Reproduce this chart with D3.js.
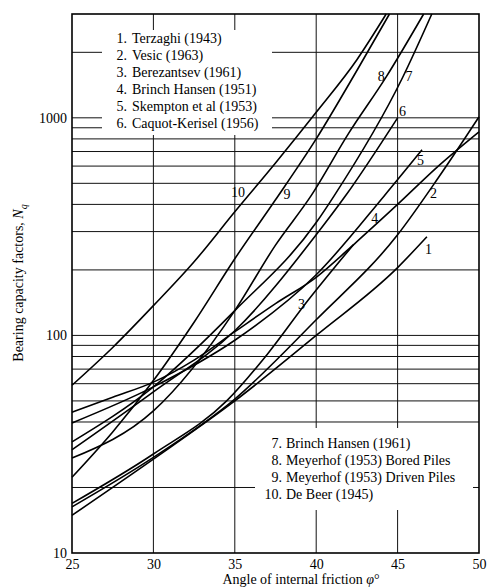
<!DOCTYPE html>
<html><head><meta charset="utf-8">
<script src="https://cdn.jsdelivr.net/npm/d3@7"></script>
<style>
body{margin:0;background:#fff;}
text{font-family:"Liberation Serif","Times New Roman",serif;fill:#000;}
</style>
</head><body>
<svg id="chart" width="487" height="587"></svg>
<script>
// ---- data ----
const xTickValues = [25, 30, 35, 40, 45, 50];
const yTickValues = [10, 100, 1000];
const hGridValues = [20, 40, 50, 60, 70, 80, 90, 100, 200, 300, 400, 500, 600, 700, 800, 900, 1000, 2000];
const vGridValues = [30, 35, 40, 45];

const legendNumsA = ["1.", "2.", "3.", "4.", "5.", "6."];
const legendNamesA = ["Terzaghi (1943)", "Vesic (1963)", "Berezantsev (1961)", "Brinch Hansen (1951)", "Skempton et al (1953)", "Caquot-Kerisel (1956)"];
const legendNumsB = ["7.", "8.", "9.", "10."];
const legendNamesB = ["Brinch Hansen (1961)", "Meyerhof (1953) Bored Piles", "Meyerhof (1953) Driven Piles", "De Beer (1945)"];

// curve 1 Terzaghi
const phi1 = [25, 30, 35, 40, 45, 46.8];
const nq1  = [14.9, 27, 50, 100, 205, 284];
// curve 2 Vesic
const phi2 = [25, 30, 35, 40, 45, 47.5, 50];
const nq2  = [16.3, 27.5, 51, 118, 290, 530, 1010];
// curve 3 Berezantsev
const phi3 = [25, 30, 34.5, 37, 39.5, 42.3];
const nq3  = [16.9, 28.5, 50, 82, 145, 262];
// curve 4 Brinch Hansen 1951
const phi4 = [25, 27.5, 30, 32.5, 35, 37.5, 40, 42.5, 45, 47.5, 50];
const nq4  = [44.4, 52, 61, 77, 104, 140, 185, 270, 400, 600, 862];
// curve 5 Skempton et al
const phi5 = [25, 30, 35, 40, 44.2, 46.5];
const nq5  = [39.6, 58, 95, 190, 440, 713];
// curve 6 Caquot-Kerisel
const phi6 = [25, 30, 35, 40, 41.8, 45];
const nq6  = [29.8, 55, 105, 290, 438, 1000];
// curve 7 Brinch Hansen 1961
const phi7 = [25, 30, 35, 40, 41.1, 45.3, 47.1];
const nq7  = [32.4, 58, 130, 330, 438, 1528, 3000];
// curve 8 Meyerhof bored
const phi8 = [25, 30, 35, 37.5, 39.7, 42, 44.3, 46.6];
const nq8  = [27.3, 45, 130, 260, 440, 850, 1542, 3000];
// curve 9 Meyerhof driven
const phi9 = [25, 27.5, 30, 32.5, 35, 37.5, 40, 42.5, 44.5];
const nq9  = [22.3, 36, 62, 115, 225, 420, 800, 1650, 3000];
// curve 10 De Beer
const phi10 = [25, 27.5, 30, 32.5, 35, 37.5, 40, 42.5, 44.3];
const nq10  = [59, 88, 137, 218, 370, 620, 1060, 1850, 3000];

const curveLabels = ["1", "2", "3", "4", "5", "6", "7", "8", "9", "10"];
const labelPhi = [46.9, 47.2, 39.1, 43.6, 46.4, 45.3, 45.7, 44.0, 38.2, 35.2];
const labelNq  = [250, 450, 140, 345, 640, 1075, 1560, 1560, 445, 455];

// ---- layout ----
const svg = d3.select("#chart");
const L = 72, R = 479, T = 14, B = 553;
const x = d3.scaleLinear().domain([25, 50]).range([L, R]);
const y = d3.scaleLog().domain([10, 3000]).range([B, T]);

// grid
svg.append("g").selectAll("line").data(hGridValues).join("line")
  .attr("x1", L).attr("x2", R).attr("y1", d => y(d)).attr("y2", d => y(d))
  .attr("stroke", "#111").attr("stroke-width", 1);
svg.append("g").selectAll("line").data(vGridValues).join("line")
  .attr("x1", d => x(d)).attr("x2", d => x(d)).attr("y1", T).attr("y2", B)
  .attr("stroke", "#111").attr("stroke-width", 1);

// legend boxes (hide grid)
svg.append("rect").attr("x", 102).attr("y", 30).attr("width", 170).attr("height", 105).attr("fill", "#fff");
svg.append("rect").attr("x", 255).attr("y", 428).attr("width", 218).attr("height", 82).attr("fill", "#fff");

// curves
const series = [
  [phi1, nq1], [phi2, nq2], [phi3, nq3], [phi4, nq4], [phi5, nq5],
  [phi6, nq6], [phi7, nq7], [phi8, nq8], [phi9, nq9], [phi10, nq10]
].map(([p, n]) => p.map((v, i) => [v, n[i]]));

const line = d3.line().x(d => x(d[0])).y(d => y(d[1])).curve(d3.curveMonotoneX);
svg.append("g").selectAll("path").data(series).join("path")
  .attr("d", line).attr("fill", "none").attr("stroke", "#000").attr("stroke-width", 1.6);

// frame
svg.append("rect").attr("x", L).attr("y", T).attr("width", R - L).attr("height", B - T)
  .attr("fill", "none").attr("stroke", "#000").attr("stroke-width", 1.6);

// axes
const xAxis = d3.axisBottom(x).tickValues(xTickValues).tickSize(0).tickPadding(6).tickFormat(d3.format("d"));
const gx = svg.append("g").attr("transform", `translate(0,${B})`).call(xAxis);
gx.select(".domain").remove();
gx.selectAll("text").attr("font-size", 14).attr("font-family", "Liberation Serif").attr("fill", "#000");

const yAxis = d3.axisLeft(y).tickValues(yTickValues).tickSize(0).tickPadding(5).tickFormat(d3.format("d"));
const gy = svg.append("g").attr("transform", `translate(${L},0)`).call(yAxis);
gy.select(".domain").remove();
gy.selectAll("text").attr("font-size", 14).attr("font-family", "Liberation Serif").attr("fill", "#000");

// axis titles
svg.append("text").attr("x", 301).attr("y", 584).attr("text-anchor", "middle").attr("font-size", 14)
  .html('Angle of internal friction <tspan font-style="italic">φ</tspan>°');
svg.append("text").attr("transform", "translate(23,283) rotate(-90)").attr("text-anchor", "middle").attr("font-size", 14)
  .html('Bearing capacity factors, <tspan font-style="italic">N</tspan><tspan font-style="italic" font-size="10" dy="4">q</tspan>');

// legends
const gA = svg.append("g");
gA.selectAll("text.n").data(legendNumsA).join("text").attr("class", "n")
  .attr("x", 127).attr("y", (d, i) => 43 + i * 17).attr("text-anchor", "end").attr("font-size", 14).text(d => d);
gA.selectAll("text.t").data(legendNamesA).join("text").attr("class", "t")
  .attr("x", 132).attr("y", (d, i) => 43 + i * 17).attr("font-size", 14).text(d => d);
const gB = svg.append("g");
gB.selectAll("text.n").data(legendNumsB).join("text").attr("class", "n")
  .attr("x", 282).attr("y", (d, i) => 448 + i * 17).attr("text-anchor", "end").attr("font-size", 14).text(d => d);
gB.selectAll("text.t").data(legendNamesB).join("text").attr("class", "t")
  .attr("x", 286).attr("y", (d, i) => 448 + i * 17).attr("font-size", 14).text(d => d);

// curve labels
svg.append("g").selectAll("text").data(curveLabels).join("text")
  .attr("x", (d, i) => x(labelPhi[i])).attr("y", (d, i) => y(labelNq[i]) + 5)
  .attr("text-anchor", "middle").attr("font-size", 14).text(d => d);
</script>
</body></html>
